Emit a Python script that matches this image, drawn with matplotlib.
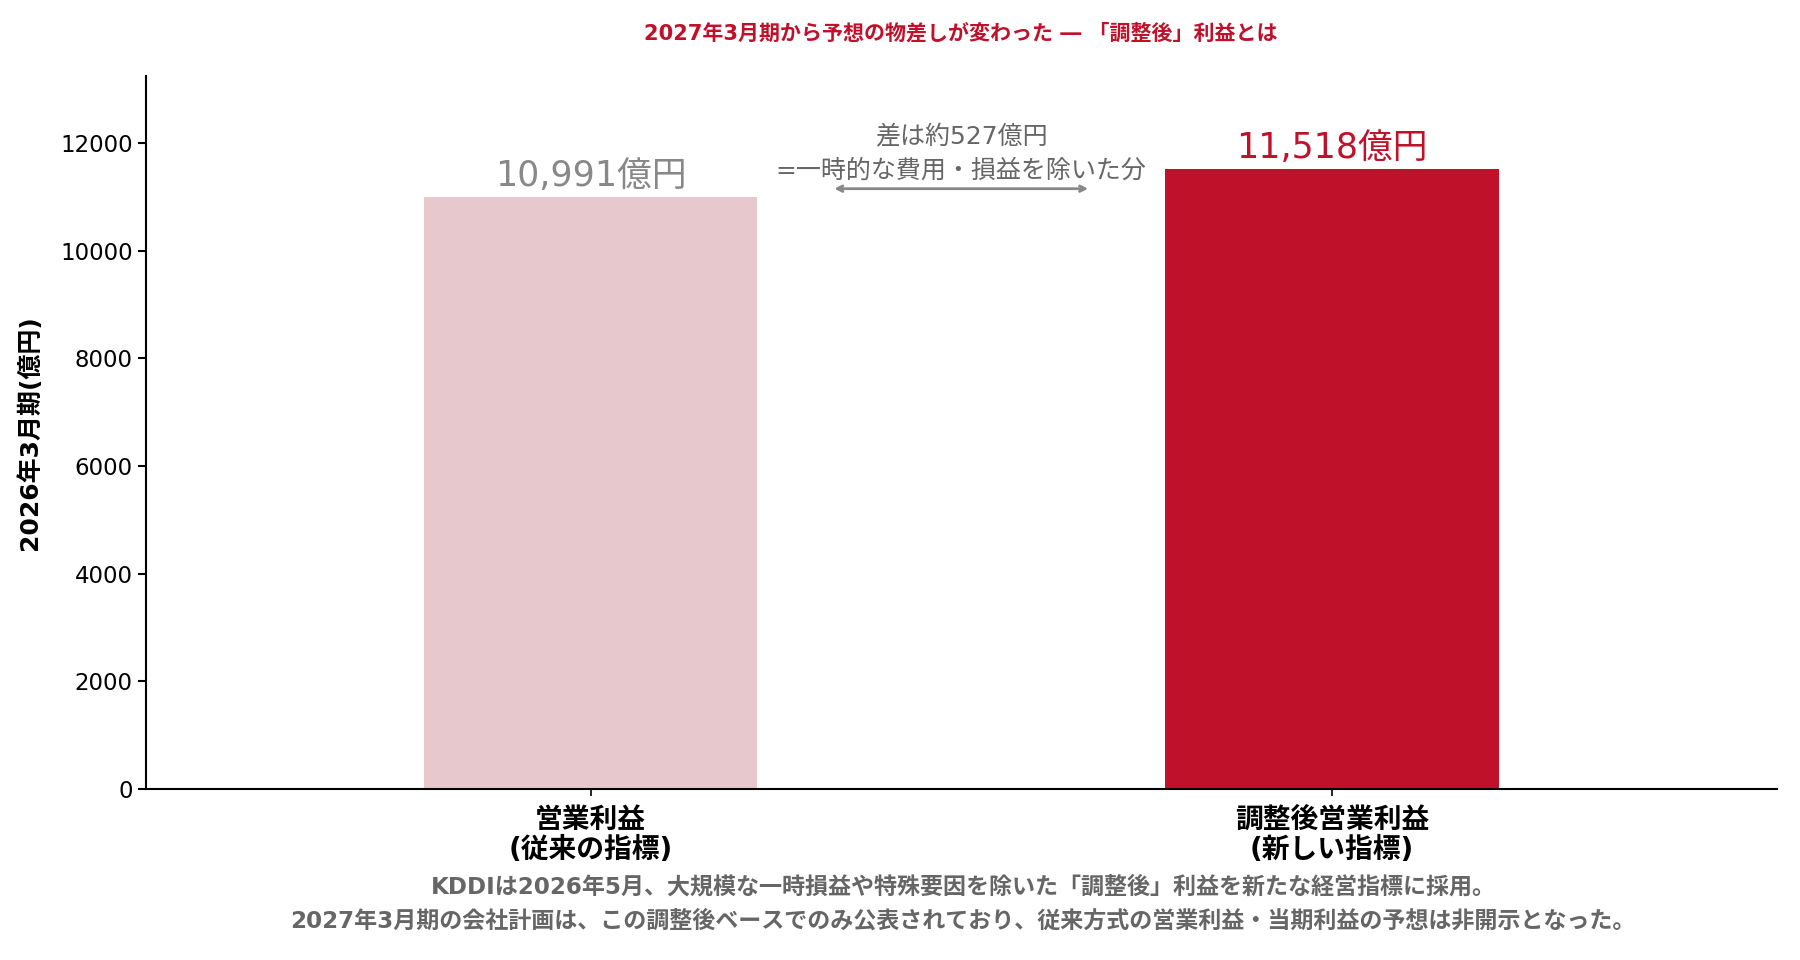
import matplotlib
matplotlib.use("Agg")
import matplotlib.pyplot as plt

# 英数字は幅の広いDejaVu、日本語はNoto CJKで
plt.rcParams['font.family'] = ['DejaVu Sans', 'Noto Sans CJK JP']

# データ
categories = ['営業利益\n(従来の指標)', '調整後営業利益\n(新しい指標)']
values = [10991, 11518]
value_labels = ['10,991億円', '11,518億円']
bar_colors = ['#e7c8cd', '#c0112b']
label_colors = ['#888888', '#c0112b']
diff_text = '差は約527億円\n=一時的な費用・損益を除いた分'
title = '2027年3月期から予想の物差しが変わった ― 「調整後」利益とは'
ylabel = '2026年3月期(億円)'
note = ('KDDIは2026年5月、大規模な一時損益や特殊要因を除いた「調整後」利益を新たな経営指標に採用。\n'
        '2027年3月期の会社計画は、この調整後ベースでのみ公表されており、従来方式の営業利益・当期利益の予想は非開示となった。')

fig = plt.figure(figsize=(18, 9.6), dpi=100)
ax = fig.add_axes([0.081, 0.178, 0.906, 0.743])

x = range(len(categories))
ax.bar(x, values, width=0.45, color=bar_colors)

for i, v in enumerate(values):
    ax.text(i, v + 80, value_labels[i], ha='center', va='bottom',
            fontsize=25, color=label_colors[i])

# 差の矢印
ax.annotate('', xy=(0.325, 11150), xytext=(0.675, 11150),
            arrowprops=dict(arrowstyle='<->', color='#888888', lw=2))
ax.text(0.5, 11260, diff_text, ha='center', va='bottom', fontsize=18,
        color='#666666', linespacing=1.48)

ax.set_xlim(-0.6, 1.6)
ax.set_ylim(0, max(values) * 1.15)
ax.set_xticks(list(x))
ax.set_xticklabels(categories, fontsize=20, fontweight='bold', linespacing=1.12)
ax.tick_params(axis='x', pad=7, length=5, width=1.2)
ax.tick_params(axis='y', labelsize=16.5, length=6, width=1.5)
ax.set_ylabel(ylabel, fontsize=18, fontweight='bold', labelpad=13)
ax.spines['top'].set_visible(False)
ax.spines['right'].set_visible(False)
ax.spines['left'].set_linewidth(1.5)
ax.spines['bottom'].set_linewidth(1.5)

ax.set_title(title, fontsize=15.1, fontweight='bold', color='#c0112b', pad=26)

fig.text(0.535, 0.029, note, ha='center', va='bottom', fontsize=16.6,
         color='#666666', fontweight='bold', linespacing=1.6)

fig.savefig('out.png', dpi=100)
